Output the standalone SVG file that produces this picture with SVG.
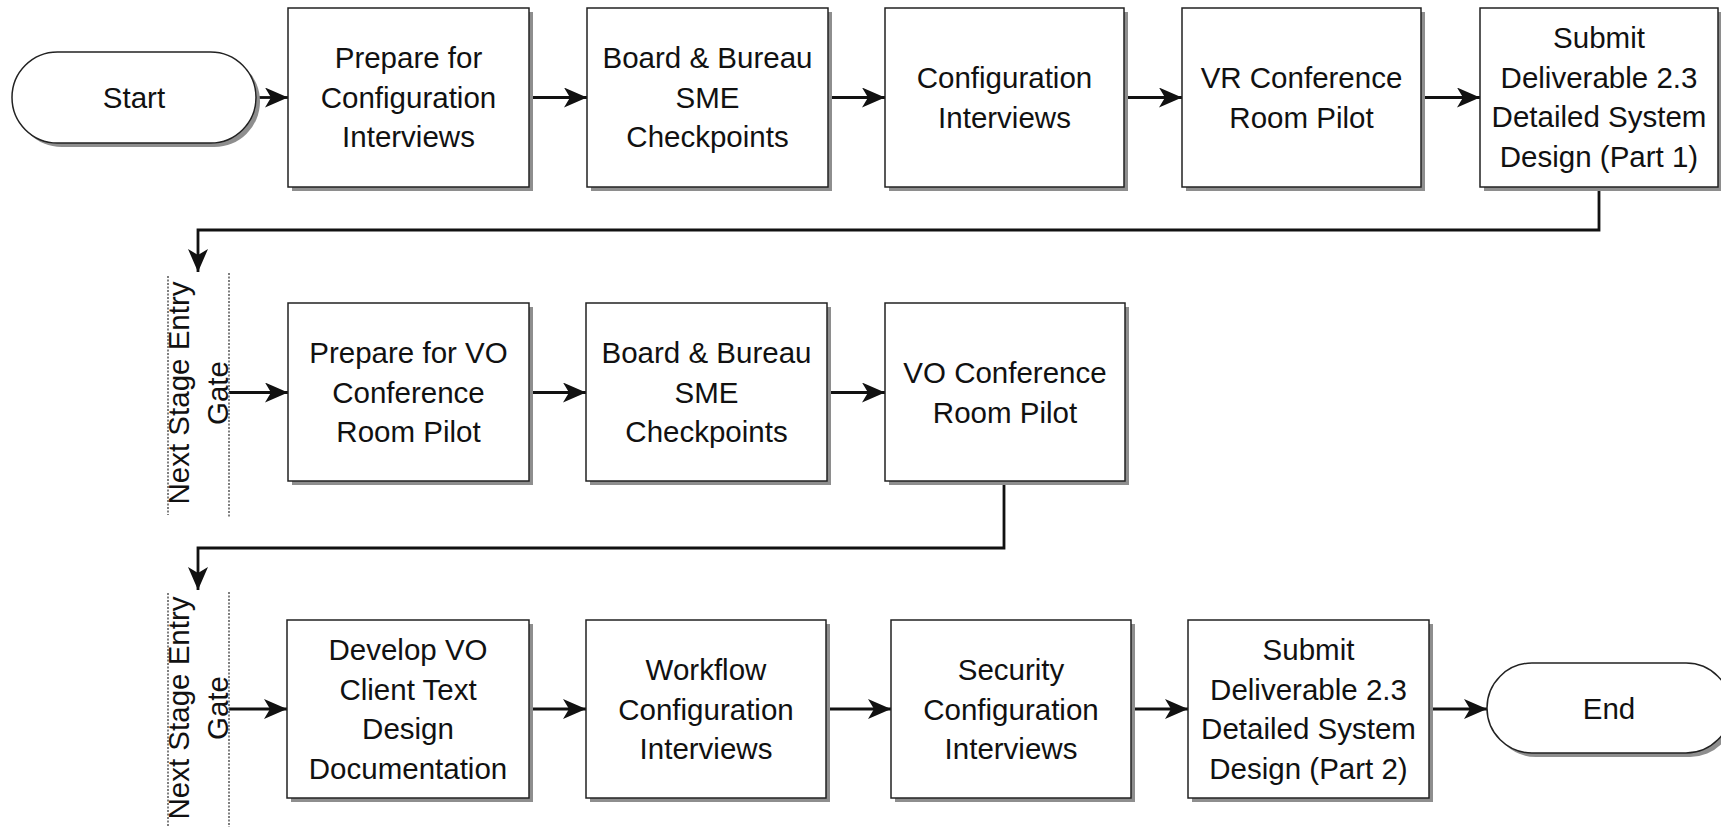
<svg xmlns="http://www.w3.org/2000/svg" width="1721" height="827" viewBox="0 0 1721 827">
<defs>
<style>
.box{fill:#fff;stroke:#222;stroke-width:1.5}
.sh{fill:#8e8e8e}
.lbl{font-family:"Liberation Sans",Arial,sans-serif;font-size:29.5px;fill:#111;text-anchor:middle}
.conn{fill:none;stroke:#111;stroke-width:2.8}
.gl{stroke:#555;stroke-width:1.5;stroke-dasharray:2 1.5;fill:none}
</style>
<marker id="ah" markerUnits="userSpaceOnUse" markerWidth="26" markerHeight="22" refX="23" refY="10" orient="auto">
<path d="M0,0 L23,10 L0,20 L6,10 Z" fill="#111"/>
</marker>
</defs>
<rect width="1721" height="827" fill="#fff"/>

<g id="connectors">
<path class="conn" d="M258,97.5 H288" marker-end="url(#ah)"/>
<path class="conn" d="M530,97.5 H587" marker-end="url(#ah)"/>
<path class="conn" d="M828,97.5 H885" marker-end="url(#ah)"/>
<path class="conn" d="M1124,97.5 H1182" marker-end="url(#ah)"/>
<path class="conn" d="M1421,97.5 H1480" marker-end="url(#ah)"/>
<path class="conn" d="M1599,187 V230 H198 V272" marker-end="url(#ah)"/>
<path class="conn" d="M229,392.5 H288" marker-end="url(#ah)"/>
<path class="conn" d="M529,392.5 H586" marker-end="url(#ah)"/>
<path class="conn" d="M827,392.5 H885" marker-end="url(#ah)"/>
<path class="conn" d="M1004,481 V548 H198 V590" marker-end="url(#ah)"/>
<path class="conn" d="M229,709 H287" marker-end="url(#ah)"/>
<path class="conn" d="M529,709 H586" marker-end="url(#ah)"/>
<path class="conn" d="M826,709 H891" marker-end="url(#ah)"/>
<path class="conn" d="M1131,709 H1188" marker-end="url(#ah)"/>
<path class="conn" d="M1429,709 H1487" marker-end="url(#ah)"/>
</g>

<g id="start">
<rect class="sh" x="16" y="56" width="244" height="91" rx="45.5"/>
<rect class="box" x="12" y="52" width="244" height="91" rx="45.5"/>
<text class="lbl" x="134" y="108">Start</text>
</g>

<g id="r1b1">
<rect class="sh" x="292" y="12" width="241" height="179"/>
<rect class="box" x="288" y="8" width="241" height="179"/>
<text class="lbl"><tspan x="408.5" y="68">Prepare for</tspan><tspan x="408.5" y="107.5">Configuration</tspan><tspan x="408.5" y="147">Interviews</tspan></text>
</g>
<g id="r1b2">
<rect class="sh" x="591" y="12" width="241" height="179"/>
<rect class="box" x="587" y="8" width="241" height="179"/>
<text class="lbl"><tspan x="707.5" y="68">Board &amp; Bureau</tspan><tspan x="707.5" y="107.5">SME</tspan><tspan x="707.5" y="147">Checkpoints</tspan></text>
</g>
<g id="r1b3">
<rect class="sh" x="889" y="12" width="239" height="179"/>
<rect class="box" x="885" y="8" width="239" height="179"/>
<text class="lbl"><tspan x="1004.5" y="88">Configuration</tspan><tspan x="1004.5" y="127.5">Interviews</tspan></text>
</g>
<g id="r1b4">
<rect class="sh" x="1186" y="12" width="239" height="179"/>
<rect class="box" x="1182" y="8" width="239" height="179"/>
<text class="lbl"><tspan x="1301.5" y="88">VR Conference</tspan><tspan x="1301.5" y="127.5">Room Pilot</tspan></text>
</g>
<g id="r1b5">
<rect class="sh" x="1484" y="12" width="238" height="179"/>
<rect class="box" x="1480" y="8" width="238" height="179"/>
<text class="lbl"><tspan x="1599" y="48">Submit</tspan><tspan x="1599" y="87.5">Deliverable 2.3</tspan><tspan x="1599" y="127">Detailed System</tspan><tspan x="1599" y="166.5">Design (Part 1)</tspan></text>
</g>

<g id="gate1">
<line class="gl" x1="168" y1="276" x2="168" y2="515"/>
<line class="gl" x1="229" y1="273" x2="229" y2="517"/>
<text class="lbl" transform="translate(189,393) rotate(-90)"><tspan x="0" y="0">Next Stage Entry</tspan><tspan x="0" y="39">Gate</tspan></text>
</g>

<g id="r2b1">
<rect class="sh" x="292" y="307" width="241" height="178"/>
<rect class="box" x="288" y="303" width="241" height="178"/>
<text class="lbl"><tspan x="408.5" y="363">Prepare for VO</tspan><tspan x="408.5" y="402.5">Conference</tspan><tspan x="408.5" y="442">Room Pilot</tspan></text>
</g>
<g id="r2b2">
<rect class="sh" x="590" y="307" width="241" height="178"/>
<rect class="box" x="586" y="303" width="241" height="178"/>
<text class="lbl"><tspan x="706.5" y="363">Board &amp; Bureau</tspan><tspan x="706.5" y="402.5">SME</tspan><tspan x="706.5" y="442">Checkpoints</tspan></text>
</g>
<g id="r2b3">
<rect class="sh" x="889" y="307" width="240" height="178"/>
<rect class="box" x="885" y="303" width="240" height="178"/>
<text class="lbl"><tspan x="1005" y="383">VO Conference</tspan><tspan x="1005" y="422.5">Room Pilot</tspan></text>
</g>

<g id="gate2">
<line class="gl" x1="168" y1="593" x2="168" y2="827"/>
<line class="gl" x1="229" y1="592" x2="229" y2="827"/>
<text class="lbl" transform="translate(189,708) rotate(-90)"><tspan x="0" y="0">Next Stage Entry</tspan><tspan x="0" y="39">Gate</tspan></text>
</g>

<g id="r3b1">
<rect class="sh" x="291" y="624" width="242" height="178"/>
<rect class="box" x="287" y="620" width="242" height="178"/>
<text class="lbl"><tspan x="408" y="660">Develop VO</tspan><tspan x="408" y="699.5">Client Text</tspan><tspan x="408" y="739">Design</tspan><tspan x="408" y="778.5">Documentation</tspan></text>
</g>
<g id="r3b2">
<rect class="sh" x="590" y="624" width="240" height="178"/>
<rect class="box" x="586" y="620" width="240" height="178"/>
<text class="lbl"><tspan x="706" y="680">Workflow</tspan><tspan x="706" y="719.5">Configuration</tspan><tspan x="706" y="759">Interviews</tspan></text>
</g>
<g id="r3b3">
<rect class="sh" x="895" y="624" width="240" height="178"/>
<rect class="box" x="891" y="620" width="240" height="178"/>
<text class="lbl"><tspan x="1011" y="680">Security</tspan><tspan x="1011" y="719.5">Configuration</tspan><tspan x="1011" y="759">Interviews</tspan></text>
</g>
<g id="r3b4">
<rect class="sh" x="1192" y="624" width="241" height="178"/>
<rect class="box" x="1188" y="620" width="241" height="178"/>
<text class="lbl"><tspan x="1308.5" y="660">Submit</tspan><tspan x="1308.5" y="699.5">Deliverable 2.3</tspan><tspan x="1308.5" y="739">Detailed System</tspan><tspan x="1308.5" y="778.5">Design (Part 2)</tspan></text>
</g>

<g id="end">
<rect class="sh" x="1491" y="667" width="244" height="90" rx="45"/>
<rect class="box" x="1487" y="663" width="244" height="90" rx="45"/>
<text class="lbl" x="1609" y="719">End</text>
</g>
</svg>
